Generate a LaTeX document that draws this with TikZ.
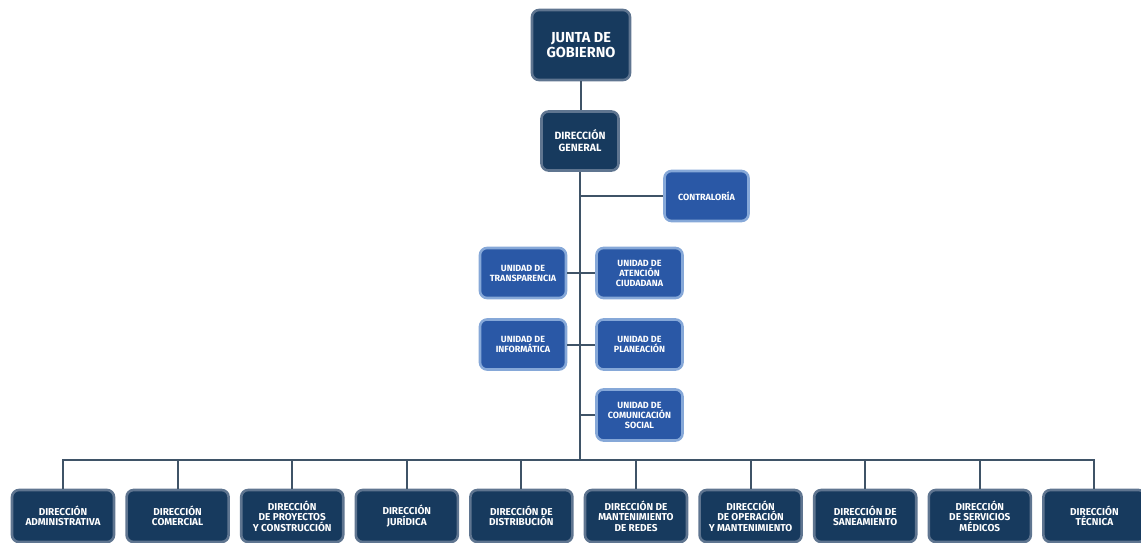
\documentclass[tikz,border=0pt]{standalone}
\usepackage{fontspec}
\setmainfont{Fira Sans}
\usetikzlibrary{positioning}
\definecolor{navy}{HTML}{173A5E}
\definecolor{navyedge}{HTML}{5F7590}
\definecolor{unitblue}{HTML}{2A58A6}
\definecolor{unitedge}{HTML}{86A8D8}
\definecolor{wirecol}{HTML}{3F5367}
\tikzstyle{box} = [rounded corners=7pt, align=center, text=white, inner sep=1pt, line width=2.6pt]
\tikzstyle{head} = [box, draw=navyedge, fill=navy]
\tikzstyle{unit} = [box, draw=unitedge, fill=unitblue, minimum width=86, minimum height=50, font=\bfseries\fontsize{9}{10}\selectfont]
\tikzstyle{link} = [wirecol, line width=2pt]

\begin{document}
\begin{tikzpicture}[x=1pt, y=-1pt]
  \useasboundingbox (0,0) rectangle (1141,543);

  % top of the tree
  \node[head, minimum width=98, minimum height=70, font=\bfseries\fontsize{14.5}{15}\selectfont] (junta) at (581,45) {JUNTA DE\\GOBIERNO};
  \node[head, minimum width=77, minimum height=59, font=\bfseries\fontsize{10.5}{12}\selectfont] (general) at (580,141) {DIRECCIÓN\\GENERAL};

  % units hanging on the trunk
  \node[unit, minimum width=84] (contra) at (706.5,196) {CONTRALORÍA};
  \node[unit] (transp) at (523,273) {UNIDAD DE\\TRANSPARENCIA};
  \node[unit] (atencion) at (639.5,273) {UNIDAD DE\\ATENCIÓN\\CIUDADANA};
  \node[unit] (informa) at (523,344.5) {UNIDAD DE\\INFORMÁTICA};
  \node[unit] (planea) at (639.5,344.5) {UNIDAD DE\\PLANEACIÓN};
  \node[unit, minimum height=51] (comunic) at (639.5,415) {UNIDAD DE\\COMUNICACIÓN\\SOCIAL};

  % directions
  \foreach \lbl [count=\i] in {{DIRECCIÓN\\ADMINISTRATIVA}, {DIRECCIÓN\\COMERCIAL},
      {DIRECCIÓN\\DE PROYECTOS\\Y CONSTRUCCIÓN}, {DIRECCIÓN\\JURÍDICA},
      {DIRECCIÓN DE\\DISTRIBUCIÓN}, {DIRECCIÓN DE\\MANTENIMIENTO\\DE REDES},
      {DIRECCIÓN\\DE OPERACIÓN\\Y MANTENIMIENTO}, {DIRECCIÓN DE\\SANEAMIENTO},
      {DIRECCIÓN\\DE SERVICIOS\\MÉDICOS}, {DIRECCIÓN\\TÉCNICA}}
    \node[head, minimum width=102, minimum height=52, font=\bfseries\fontsize{10}{10.5}\selectfont] (d\i) at ({63+114.6*(\i-1)},516) {\lbl};

  \coordinate (bus) at (580,460);

  % connectors
  \draw[link] (junta.south) -- (general.north -| junta.south);
  \draw[link] (general.south) -- (bus);
  \draw[link] (contra.west) -- (contra.west -| bus);
  \draw[link] (transp.east) -- (atencion.west);
  \draw[link] (informa.east) -- (planea.west);
  \draw[link] (comunic.west) -- (comunic.west -| bus);
  \draw[link] (d1.north) -- (d1.north |- bus) -- (d10.north |- bus) -- (d10.north);
  \foreach \i in {2,...,9}
    \draw[link] (d\i.north) -- (d\i.north |- bus);
\end{tikzpicture}
\end{document}
